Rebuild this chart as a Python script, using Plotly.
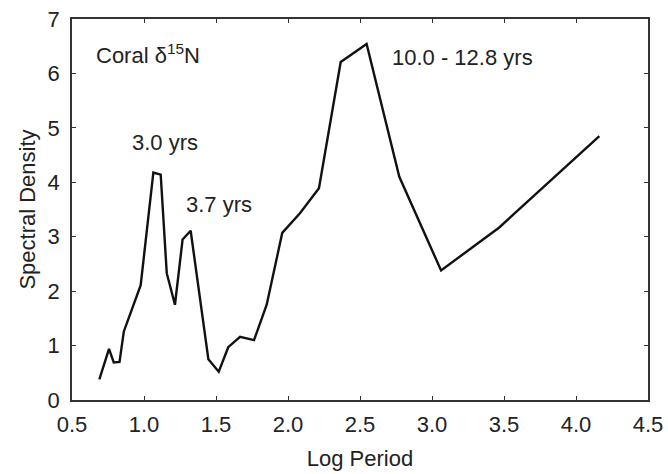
import plotly.graph_objects as go

# Spectrum of coral delta-15N record
log_period = [0.69, 0.757, 0.79, 0.83, 0.86, 0.926, 0.977, 1.065, 1.116, 1.158,
              1.215, 1.268, 1.324, 1.447, 1.519, 1.585, 1.667, 1.764, 1.852,
              1.96, 2.083, 2.215, 2.366, 2.546, 2.773, 3.063, 3.467, 4.162]
spectral_density = [0.38, 0.94, 0.69, 0.70, 1.26, 1.74, 2.11, 4.18, 4.14, 2.33,
                    1.75, 2.95, 3.11, 0.75, 0.52, 0.97, 1.16, 1.10, 1.75,
                    3.07, 3.43, 3.89, 6.21, 6.54, 4.10, 2.38, 3.17, 4.85]

x_ticks = [0.5, 1.0, 1.5, 2.0, 2.5, 3.0, 3.5, 4.0, 4.5]
x_tick_text = ["0.5", "1.0", "1.5", "2.0", "2.5", "3.0", "3.5", "4.0", "4.5"]
y_ticks = [0, 1, 2, 3, 4, 5, 6, 7]

peak_labels = ["3.0 yrs", "3.7 yrs", "10.0 - 12.8 yrs"]
peak_label_x = [1.146, 1.524, 3.215]
peak_label_y = [4.74, 3.59, 6.30]

FONT = "Liberation Sans, Arial, sans-serif"
INK = "#222222"

fig = go.Figure()
fig.add_trace(go.Scatter(
    x=log_period, y=spectral_density, mode="lines",
    line=dict(color="#111111", width=2.4), showlegend=False,
))

for txt, px, py in zip(peak_labels, peak_label_x, peak_label_y):
    fig.add_annotation(x=px, y=py, text=txt, showarrow=False,
                       font=dict(size=22, color=INK, family=FONT))

fig.add_annotation(x=0.655, y=6.36, text="Coral \u03b4<sup>15</sup>N", showarrow=False,
                   xanchor="left", font=dict(size=22, color=INK, family=FONT))

axis_common = dict(
    showgrid=False, zeroline=False, showline=True, linecolor="#333333",
    linewidth=1.5, mirror="ticks", ticks="inside", ticklen=4,
    tickcolor="#333333", tickwidth=1, automargin=False,
    tickfont=dict(size=22, color=INK, family=FONT),
)

fig.update_xaxes(range=[0.5, 4.5], tickvals=x_ticks, ticktext=x_tick_text,
                 ticklabelstandoff=4,
                 title=dict(text="Log Period", font=dict(size=22, color=INK, family=FONT),
                            standoff=14),
                 **axis_common)
fig.update_yaxes(range=[0, 7], tickvals=y_ticks, ticklabelstandoff=6,
                 title=dict(text="Spectral Density", font=dict(size=22, color=INK, family=FONT),
                            standoff=6),
                 **axis_common)

fig.update_layout(
    width=668, height=474,
    margin=dict(l=72, r=20, t=19, b=74),
    plot_bgcolor="white", paper_bgcolor="white",
)

fig.write_html("out.html")
